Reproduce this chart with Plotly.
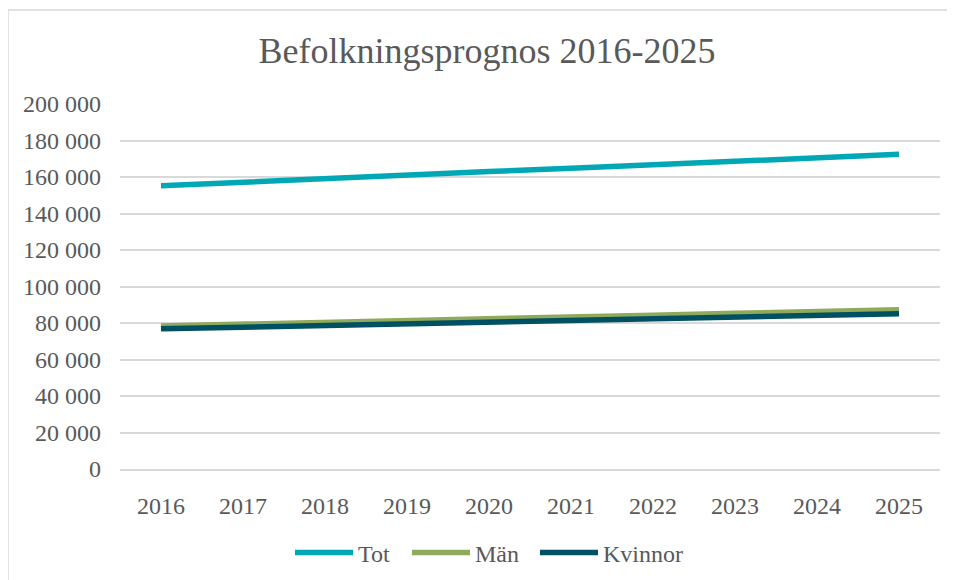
import plotly.graph_objects as go

years = ["2016", "2017", "2018", "2019", "2020", "2021", "2022", "2023", "2024", "2025"]
tot = [155200, 157300, 159300, 161200, 163000, 164800, 166700, 168600, 170500, 172400]
man = [78400, 79500, 80500, 81500, 82400, 83300, 84300, 85300, 86300, 87300]
kvinnor = [76800, 77800, 78800, 79700, 80600, 81500, 82400, 83300, 84200, 85100]

series = [("Tot", tot, "#00A8B6"), ("Män", man, "#8FAA5A"), ("Kvinnor", kvinnor, "#005064")]

FONT = "Times New Roman"
TXT = "#595959"

OFF = 8  # page body margin
L, R, T, B = 120 - OFF, 940 - OFF, 104 - OFF, 469 - OFF
W, H = 955 - OFF, 580 - OFF
pw, ph = R - L, B - T

def px(x):
    return (x - OFF - L) / pw

def py(y):
    return (B - (y - OFF)) / ph

legend_names = ["legend", "legend2", "legend3"]
legend_left = [298, 415, 543]  # reference pixel x where each legend line starts

fig = go.Figure()
for (name, vals, col), lg in zip(series, legend_names):
    fig.add_trace(go.Scatter(x=years, y=vals, name=name, mode="lines", legend=lg,
                             line=dict(color=col, width=5.5)))

fig.add_shape(type="rect", xref="paper", yref="paper",
              x0=px(8), x1=px(975), y0=py(600), y1=py(10),
              line=dict(color="#d9d9d9", width=1.5), fillcolor="rgba(0,0,0,0)", layer="below")

legend_style = dict(orientation="h", xref="container", xanchor="left",
                    y=1 - (553 - OFF) / H, yref="container", yanchor="middle",
                    font=dict(family=FONT, size=24, color=TXT), itemwidth=58,
                    bgcolor="rgba(0,0,0,0)", borderwidth=0)

fig.update_layout(
    width=W, height=H,
    margin=dict(l=L, r=W - R, t=T, b=H - B, pad=0),
    paper_bgcolor="white", plot_bgcolor="white",
    separators=", ",
    font=dict(family=FONT, color=TXT, size=24),
    title=dict(text="Befolkningsprognos 2016-2025", font=dict(family=FONT, size=36, color=TXT),
               x=(487 - OFF) / W, xref="container", xanchor="center",
               y=1 - (50 - OFF) / H, yref="container", yanchor="middle"),
    showlegend=True,
    xaxis=dict(type="category", range=[-0.5, 9.5], showgrid=False, showline=True,
               linecolor="#d9d9d9", linewidth=1.5, ticks="", ticklabelstandoff=14,
               tickfont=dict(family=FONT, size=24, color=TXT), zeroline=False, fixedrange=True),
    yaxis=dict(range=[0, 200000], dtick=20000, tickformat=",d", showgrid=True,
               gridcolor="#d9d9d9", gridwidth=1.5, zeroline=False, showline=False, ticks="",
               ticklabelstandoff=18, tickfont=dict(family=FONT, size=24, color=TXT)),
)
for lg, lx in zip(legend_names, legend_left):
    fig.update_layout({lg: dict(legend_style, x=(lx - OFF - 8) / W)})

fig.write_html("out.html")
